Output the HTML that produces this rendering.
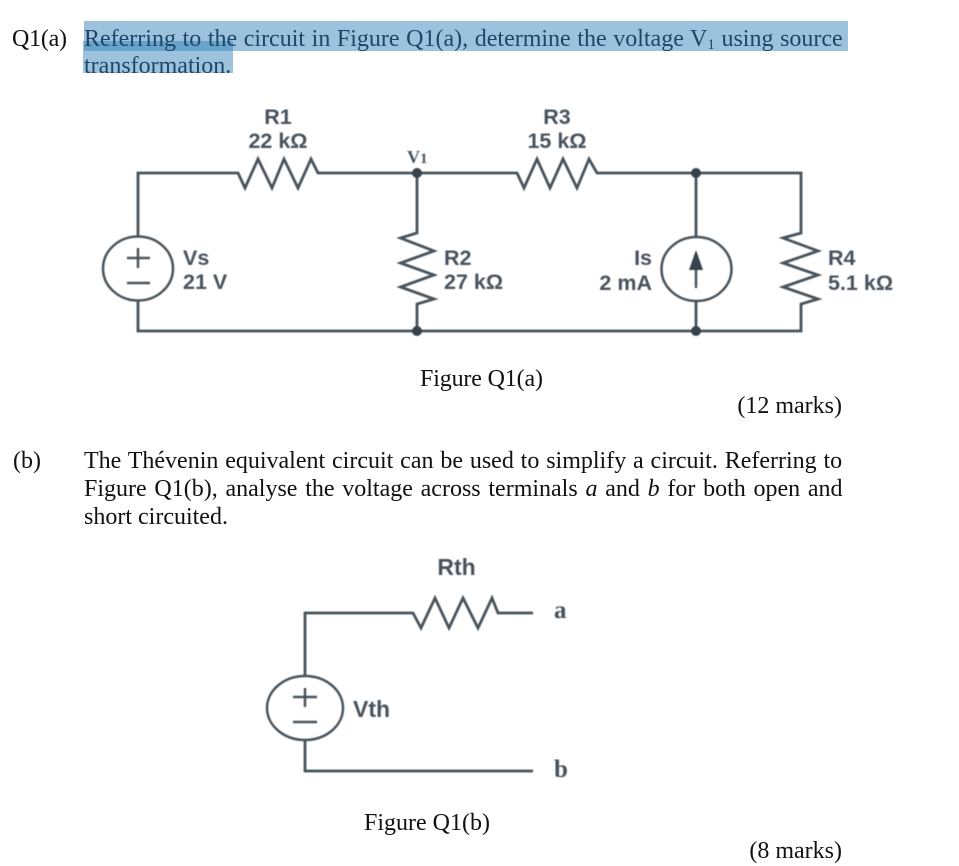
<!DOCTYPE html>
<html>
<head>
<meta charset="utf-8">
<style>
html,body{margin:0;padding:0;background:#fff;width:959px;height:866px;overflow:hidden}
svg{display:block}
.t{font-family:"Liberation Serif",serif;font-size:24px;fill:#111}
.h{fill:#1f4666}
.l{font-family:"Liberation Sans",sans-serif;font-weight:bold;font-size:21.5px;fill:#47525c}
.w{fill:none;stroke:#48525a;stroke-width:2.8;stroke-linejoin:miter}
.c{fill:none;stroke:#48525a;stroke-width:2.5}
.d{fill:#38424a}
.b{filter:blur(0.4px)}
</style>
</head>
<body>
<svg width="959" height="866" viewBox="0 0 959 866" xmlns="http://www.w3.org/2000/svg">
<rect x="84" y="21" width="764" height="30" fill="#9cc2de"/>
<rect x="83" y="41" width="150" height="32" fill="#9cc2de"/>
<rect x="84" y="41" width="149" height="10" fill="#68a3cb"/>

<text class="t" x="12" y="46" textLength="55">Q1(a)</text>
<text class="t h" x="84" y="46" style="word-spacing:0.6px">Referring to the circuit in Figure Q1(a), determine the voltage V<tspan font-size="15" dy="3">1</tspan><tspan dy="-3"> using source</tspan></text>
<text class="t h" x="84" y="73">transformation.</text>

<g class="b">
<polyline class="w" points="138,237 138,173 238,173 245,188 258,159 272,188 284,159 298,188 311,159 318,173 417,173 517,173 524,188 537,159 550,188 563,159 577,188 589,159 597,173 801,173 801,233 783,238 818,251 783,263 818,275 783,287 818,299 801,304 801,331 138,331 138,300"/>
<polyline class="w" points="417,173 417,233 400.500,238 434,251 400.500,263 434,275 400.500,287 434,299 417,304 417,331"/>
<line class="w" x1="696" y1="173" x2="696" y2="237"/>
<line class="w" x1="696" y1="301" x2="696" y2="331"/>
<circle class="d" cx="417" cy="173" r="5"/>
<circle class="d" cx="696" cy="173" r="5"/>
<circle class="d" cx="417" cy="331" r="5"/>
<circle class="d" cx="696" cy="331" r="5"/>

<ellipse class="c" cx="138" cy="268.500" rx="35" ry="32"/>
<line class="c" x1="127" y1="258" x2="150" y2="258"/>
<line class="c" x1="138" y1="248" x2="138" y2="268"/>
<line class="c" x1="127" y1="283" x2="150" y2="283"/>

<ellipse class="c" cx="696.500" cy="269" rx="35" ry="32"/>
<line class="c" x1="696" y1="265" x2="696" y2="288"/>
<polygon class="d" points="696,250 703,270 689,270"/>

<text class="l" x="278" y="124" text-anchor="middle">R1</text>
<text class="l" x="278" y="148" text-anchor="middle">22 kΩ</text>
<text class="l" x="557" y="124" text-anchor="middle">R3</text>
<text class="l" x="557" y="148" text-anchor="middle">15 kΩ</text>
<text x="407" y="163" style="font-family:'Liberation Serif',serif;font-weight:bold;font-size:18px;fill:#47525c">V<tspan font-size="15">1</tspan></text>
<text class="l" x="183" y="265">Vs</text>
<text class="l" x="183" y="289">21 V</text>
<text class="l" x="444" y="265">R2</text>
<text class="l" x="444" y="289">27 kΩ</text>
<text class="l" x="652" y="265" text-anchor="end">Is</text>
<text class="l" x="652" y="290" text-anchor="end">2 mA</text>
<text class="l" x="828" y="265">R4</text>
<text class="l" x="828" y="290">5.1 kΩ</text>

<polyline class="w" points="305,676 305,613 413,613 421,628 435,598 449,628 463,598 478,628 492,598 498,613 533,613"/>
<polyline class="w" points="305,740 305,771 533,771"/>
<ellipse class="c" cx="305" cy="708" rx="38" ry="32"/>
<line class="c" x1="293" y1="697" x2="317" y2="697"/>
<line class="c" x1="305" y1="688" x2="305" y2="707"/>
<line class="c" x1="293" y1="722" x2="317" y2="722"/>

<text class="l" x="456.500" y="575" text-anchor="middle" style="font-size:23px">Rth</text>
<text class="l" x="353" y="717" style="font-size:23px">Vth</text>
<text x="554" y="618" style="font-family:'Liberation Serif',serif;font-weight:bold;font-size:25px;fill:#47525c">a</text>
<text x="554" y="777" style="font-family:'Liberation Serif',serif;font-weight:bold;font-size:25px;fill:#47525c">b</text>
</g>

<text class="t" x="420" y="386" textLength="123">Figure Q1(a)</text>
<text class="t" x="842" y="413" text-anchor="end">(12 marks)</text>

<text class="t" x="13" y="468">(b)</text>
<text class="t" x="84" y="468" style="word-spacing:0.85px">The Thévenin equivalent circuit can be used to simplify a circuit. Referring to</text>
<text class="t" x="84" y="496" style="word-spacing:1.75px">Figure Q1(b), analyse the voltage across terminals <tspan font-style="italic">a</tspan> and <tspan font-style="italic">b</tspan> for both open and</text>
<text class="t" x="84" y="524">short circuited.</text>

<text class="t" x="364" y="830">Figure Q1(b)</text>
<text class="t" x="842" y="858" text-anchor="end">(8 marks)</text>
</svg>
</body>
</html>
